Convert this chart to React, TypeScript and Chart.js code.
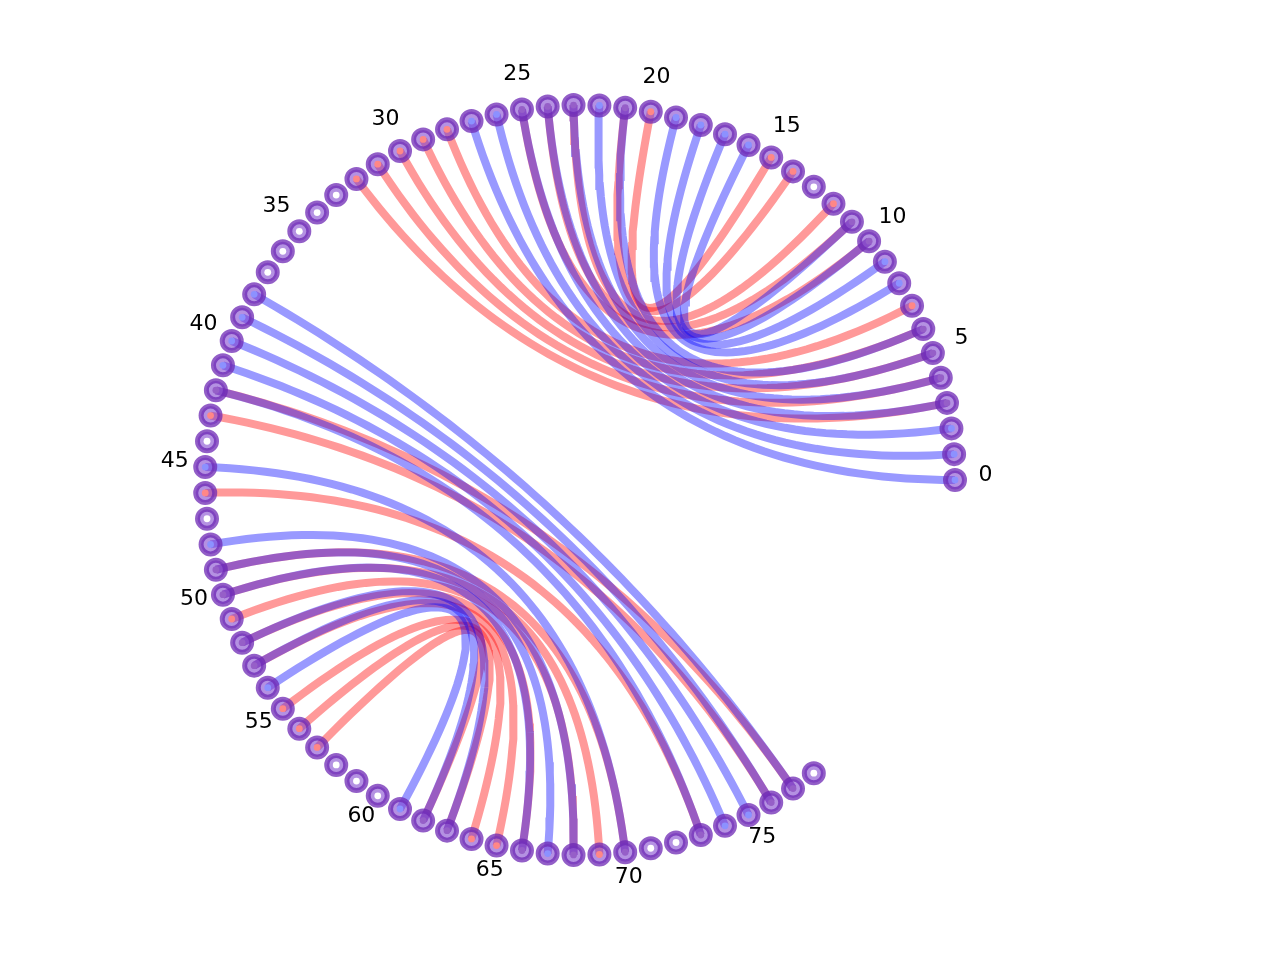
import React, { useEffect, useRef } from 'react';
import { Chart, registerables } from 'chart.js';

Chart.register(...registerables);

// nodes sit on a circle, numbered counter-clockwise from the right
const NODE_COUNT = 79;
const ANGLE_SLOTS = 91;
const tickLabels = [0, 5, 10, 15, 20, 25, 30, 35, 40, 45, 50, 55, 60, 65, 70, 75];

// two pairings of the same nodes, drawn as chords
const redPairs: [number, number][] = [
  [3, 32], [4, 31], [5, 30], [6, 29], [7, 28], [10, 25], [11, 24], [12, 23], [14, 21], [15, 20],
  [42, 77], [43, 76], [46, 73], [49, 70], [50, 69], [51, 68], [52, 66], [53, 65], [55, 64], [56, 63], [57, 62],
];
const bluePairs: [number, number][] = [
  [0, 27], [1, 26], [2, 25], [3, 24], [4, 23], [5, 22], [6, 21], [8, 19], [9, 18], [10, 17], [11, 16],
  [38, 77], [39, 76], [40, 75], [41, 74], [42, 73], [45, 70], [48, 68], [49, 67], [50, 66], [52, 63], [53, 62], [54, 61],
];

const angleOf = (i: number) => (i * 2 * Math.PI) / ANGLE_SLOTS;
const nodeXY = (i: number) => ({ x: Math.cos(angleOf(i)), y: Math.sin(angleOf(i)) });

// quadratic curve with its control point at the centre
const chordPoints = (a: number, b: number) => {
  const pa = nodeXY(a);
  const pb = nodeXY(b);
  const pts = [];
  for (let k = 0; k <= 60; k++) {
    const t = k / 60;
    const u = 1 - t;
    pts.push({ x: u * u * pa.x + t * t * pb.x, y: u * u * pa.y + t * t * pb.y });
  }
  return pts;
};

const labelPlugin = {
  id: 'nodeLabels',
  afterDatasetsDraw(chart: any) {
    const { ctx, scales } = chart;
    ctx.save();
    ctx.font = '22px "DejaVu Sans"';
    ctx.fillStyle = '#000';
    ctx.textAlign = 'center';
    ctx.textBaseline = 'middle';
    tickLabels.forEach((v) => {
      const p = nodeXY(v);
      const px = scales.x.getPixelForValue(p.x * 1.081);
      const py = scales.y.getPixelForValue(p.y * 1.081) - 5;
      ctx.fillText(String(v), px, py);
    });
    ctx.restore();
  },
};

const App = () => {
  const chartRef = useRef<HTMLCanvasElement>(null);

  useEffect(() => {
    document.body.style.margin = '0';
    if (chartRef.current == null) return;
    const ctx = chartRef.current.getContext('2d');
    if (ctx == null) return;

    const inRed = new Set(redPairs.flat());
    const inBlue = new Set(bluePairs.flat());
    const nodes = Array.from({ length: NODE_COUNT }, (_, i) => nodeXY(i));
    const dotColors = nodes.map((_, i) => {
      if (inRed.has(i) && inBlue.has(i)) return 'rgb(150,95,200)';
      if (inRed.has(i)) return 'rgb(255,135,135)';
      if (inBlue.has(i)) return 'rgb(140,145,255)';
      return '#ffffff';
    });

    const chordSet = (pairs: [number, number][], color: string, order: number) =>
      pairs.map(([a, b]) => ({
        type: 'line' as const,
        data: chordPoints(a, b),
        borderColor: color,
        borderWidth: 8,
        borderCapStyle: 'butt' as const,
        pointRadius: 0,
        fill: false,
        tension: 0,
        showLine: true,
        order,
      }));

    const myChart = new Chart(ctx, {
      type: 'scatter',
      data: {
        datasets: [
          ...chordSet(redPairs, 'rgba(255,0,0,0.4)', 4),
          ...chordSet(bluePairs, 'rgba(0,0,255,0.4)', 3),
          {
            data: nodes,
            pointRadius: 9.5,
            borderWidth: 5,
            pointBackgroundColor: 'rgba(125,65,205,0.58)',
            pointBorderColor: 'rgba(110,40,180,0.75)',
            order: 2,
          } as any,
          {
            data: nodes,
            pointRadius: 3.4,
            borderWidth: 0,
            pointBackgroundColor: dotColors,
            pointBorderColor: dotColors,
            order: 1,
          } as any,
        ],
      },
      options: {
        responsive: false,
        animation: false,
        layout: { padding: 0, autoPadding: false },
        plugins: {
          legend: { display: false },
          tooltip: { enabled: false },
        },
        scales: {
          x: { type: 'linear', min: -580 / 375, max: 700 / 375, display: false },
          y: { type: 'linear', min: -1.28, max: 1.28, display: false },
        },
      },
      plugins: [labelPlugin],
    });
    return () => {
      myChart.destroy();
    };
  }, []);

  return (
    <div style={{ width: 1280, height: 960, background: '#fff' }}>
      <canvas ref={chartRef} width={1280} height={960} style={{ display: 'block' }} />
    </div>
  );
};

export default App;
